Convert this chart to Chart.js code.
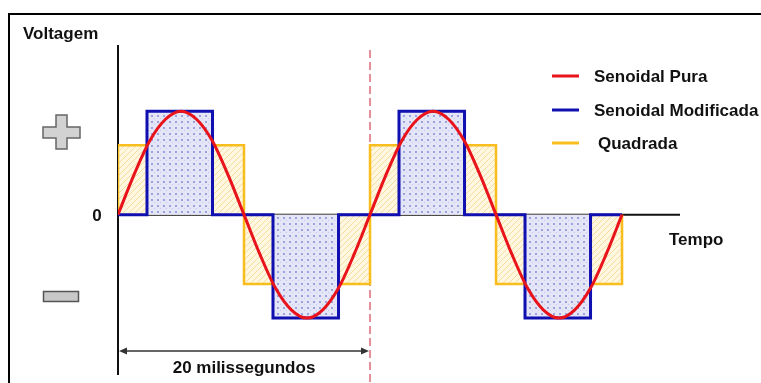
<!DOCTYPE html>
<html>
<head>
<meta charset="utf-8">
<script src="https://cdn.jsdelivr.net/npm/chart.js@4/dist/chart.umd.min.js"></script>
<style>
  html, body { margin: 0; padding: 0; background: #fff; }
  canvas { display: block; }
</style>
</head>
<body>
<canvas id="ondas" width="761" height="383"></canvas>
<script>
// tempo em ms, voltagem normalizada (pico = 1)
const sineTime = [0, 1.25, 2.5, 3.75, 5, 6.25, 7.5, 8.75, 10, 11.25, 12.5, 13.75, 15, 16.25, 17.5, 18.75,
                  20, 21.25, 22.5, 23.75, 25, 26.25, 27.5, 28.75, 30, 31.25, 32.5, 33.75, 35, 36.25, 37.5, 38.75, 40];
const sineVolt = [0, 0.38, 0.71, 0.92, 1, 0.92, 0.71, 0.38, 0, -0.38, -0.71, -0.92, -1, -0.92, -0.71, -0.38,
                  0, 0.38, 0.71, 0.92, 1, 0.92, 0.71, 0.38, 0, -0.38, -0.71, -0.92, -1, -0.92, -0.71, -0.38, 0];

const modTime = [0, 2.3, 7.5, 12.3, 17.5, 22.3, 27.5, 32.3, 37.5, 40];
const modVolt = [0, 1, 0, -1, 0, 1, 0, -1, 0, 0];

const sqTime = [0, 0, 10, 20, 30, 40];
const sqVolt = [0, 0.67, -0.67, 0.67, -0.67, 0];

const seriesNames = ['Senoidal Pura', 'Senoidal Modificada', 'Quadrada'];
const periodMs = 20;

const RED = '#e8131b';
const BLUE = '#1010b0';
const YELLOW = '#f9be1e';
const FONT = 'bold 17px "Liberation Sans", Arial, sans-serif';

function toPoints(xs, ys) {
    return xs.map((x, i) => ({ x: x, y: ys[i] }));
}

// hachuras das áreas
function makePattern(kind) {
    const c = document.createElement('canvas');
    c.width = 6; c.height = 6;
    const g = c.getContext('2d');
    if (kind === 'blue') {
        g.fillStyle = '#e4e6f8';
        g.fillRect(0, 0, 6, 6);
        g.fillStyle = '#9ca2e0';
        g.fillRect(1, 1, 2, 2);
        g.fillStyle = '#c2c6ef';
        g.fillRect(4, 4, 1, 1);
    } else {
        g.fillStyle = '#fff7e0';
        g.fillRect(0, 0, 6, 6);
        g.strokeStyle = '#f5dda0';
        g.lineWidth = 1;
        g.beginPath();
        g.moveTo(-1, 7); g.lineTo(7, -1);
        g.stroke();
    }
    return g.createPattern(c, 'repeat');
}

const decor = {
    id: 'decor',
    beforeDraw(chart) {
        const ctx = chart.ctx;
        ctx.save();
        ctx.fillStyle = '#fff';
        ctx.fillRect(0, 0, chart.width, chart.height);
        // moldura
        ctx.strokeStyle = '#000';
        ctx.lineWidth = 2;
        ctx.beginPath();
        ctx.moveTo(9, chart.height + 2);
        ctx.lineTo(9, 14);
        ctx.lineTo(chart.width + 2, 14);
        ctx.stroke();
        ctx.restore();
    },
    beforeDatasetsDraw(chart) {
        const ctx = chart.ctx;
        const xs = chart.scales.x, ys = chart.scales.y;
        const area = chart.chartArea;
        const x0 = xs.getPixelForValue(0);
        const y0 = ys.getPixelForValue(0);
        const xp = xs.getPixelForValue(periodMs);
        ctx.save();
        // eixos
        ctx.strokeStyle = '#111';
        ctx.lineWidth = 2;
        ctx.beginPath();
        ctx.moveTo(x0, area.top);
        ctx.lineTo(x0, area.bottom);
        ctx.moveTo(x0, y0);
        ctx.lineTo(area.right, y0);
        ctx.stroke();
        // linha tracejada do período
        ctx.strokeStyle = '#e3909a';
        ctx.lineWidth = 2;
        ctx.setLineDash([8, 4]);
        ctx.beginPath();
        ctx.moveTo(xp, area.top + 5);
        ctx.lineTo(xp, chart.height);
        ctx.stroke();
        ctx.setLineDash([]);
        ctx.restore();
    },
    afterDraw(chart) {
        const ctx = chart.ctx;
        const xs = chart.scales.x, ys = chart.scales.y;
        const x0 = xs.getPixelForValue(0);
        const y0 = ys.getPixelForValue(0);
        const xp = xs.getPixelForValue(periodMs);
        ctx.save();
        ctx.font = FONT;
        ctx.fillStyle = '#111';
        ctx.textBaseline = 'alphabetic';
        ctx.textAlign = 'left';
        ctx.fillText('Voltagem', 23, 39);
        ctx.fillText('Tempo', 669, 245);
        ctx.textAlign = 'center';
        ctx.fillText('0', 97, y0 + 6);
        ctx.fillText(periodMs + ' milissegundos', (x0 + xp) / 2, 373);

        // seta de 20 ms
        const ya = 351;
        ctx.strokeStyle = '#333';
        ctx.fillStyle = '#333';
        ctx.lineWidth = 1.5;
        ctx.beginPath();
        ctx.moveTo(x0 + 4, ya);
        ctx.lineTo(xp - 4, ya);
        ctx.stroke();
        ctx.beginPath();
        ctx.moveTo(x0 + 1, ya); ctx.lineTo(x0 + 9, ya - 3.5); ctx.lineTo(x0 + 9, ya + 3.5); ctx.closePath();
        ctx.moveTo(xp - 1, ya); ctx.lineTo(xp - 9, ya - 3.5); ctx.lineTo(xp - 9, ya + 3.5); ctx.closePath();
        ctx.fill();

        // sinais + e -
        ctx.fillStyle = '#d2d2d2';
        ctx.strokeStyle = '#666';
        ctx.lineWidth = 1.5;
        ctx.beginPath();
        ctx.moveTo(56, 115); ctx.lineTo(67, 115); ctx.lineTo(67, 127); ctx.lineTo(80, 127);
        ctx.lineTo(80, 138); ctx.lineTo(67, 138); ctx.lineTo(67, 149); ctx.lineTo(56, 149);
        ctx.lineTo(56, 138); ctx.lineTo(43, 138); ctx.lineTo(43, 127); ctx.lineTo(56, 127);
        ctx.closePath();
        ctx.fill();
        ctx.stroke();
        ctx.fillStyle = '#c8c8c8';
        ctx.strokeStyle = '#555';
        ctx.fillRect(43.5, 291.5, 35, 10);
        ctx.strokeRect(43.5, 291.5, 35, 10);

        // legenda
        const legY = [76, 110, 143];
        const legTx = [594, 594, 598];
        ctx.textAlign = 'left';
        ctx.textBaseline = 'alphabetic';
        chart.data.datasets.forEach((ds, i) => {
            ctx.strokeStyle = ds.borderColor;
            ctx.lineWidth = 3;
            ctx.beginPath();
            ctx.moveTo(552, legY[i]);
            ctx.lineTo(579, legY[i]);
            ctx.stroke();
            ctx.fillStyle = '#111';
            ctx.fillText(ds.label, legTx[i], legY[i] + 6);
        });
        ctx.restore();
    }
};

const chart = new Chart(document.getElementById('ondas'), {
    type: 'line',
    data: {
        datasets: [
            {
                label: seriesNames[0],
                data: toPoints(sineTime, sineVolt),
                borderColor: RED,
                borderWidth: 3,
                cubicInterpolationMode: 'monotone',
                pointRadius: 0,
                fill: false
            },
            {
                label: seriesNames[1],
                data: toPoints(modTime, modVolt),
                borderColor: BLUE,
                borderWidth: 3,
                stepped: true,
                pointRadius: 0,
                fill: 'origin',
                backgroundColor: makePattern('blue')
            },
            {
                label: seriesNames[2],
                data: toPoints(sqTime, sqVolt),
                borderColor: YELLOW,
                borderWidth: 2.5,
                stepped: true,
                pointRadius: 0,
                fill: 'origin',
                backgroundColor: makePattern('yellow')
            }
        ]
    },
    options: {
        responsive: false,
        animation: false,
        devicePixelRatio: 1,
        layout: { padding: { left: 118, right: 81, top: 45, bottom: 8 } },
        scales: {
            x: { type: 'linear', min: 0, max: 44.6, display: false },
            y: { type: 'linear', min: -1.55, max: 1.64, display: false }
        },
        plugins: {
            legend: { display: false },
            tooltip: { enabled: false }
        }
    },
    plugins: [decor]
});
</script>
</body>
</html>
